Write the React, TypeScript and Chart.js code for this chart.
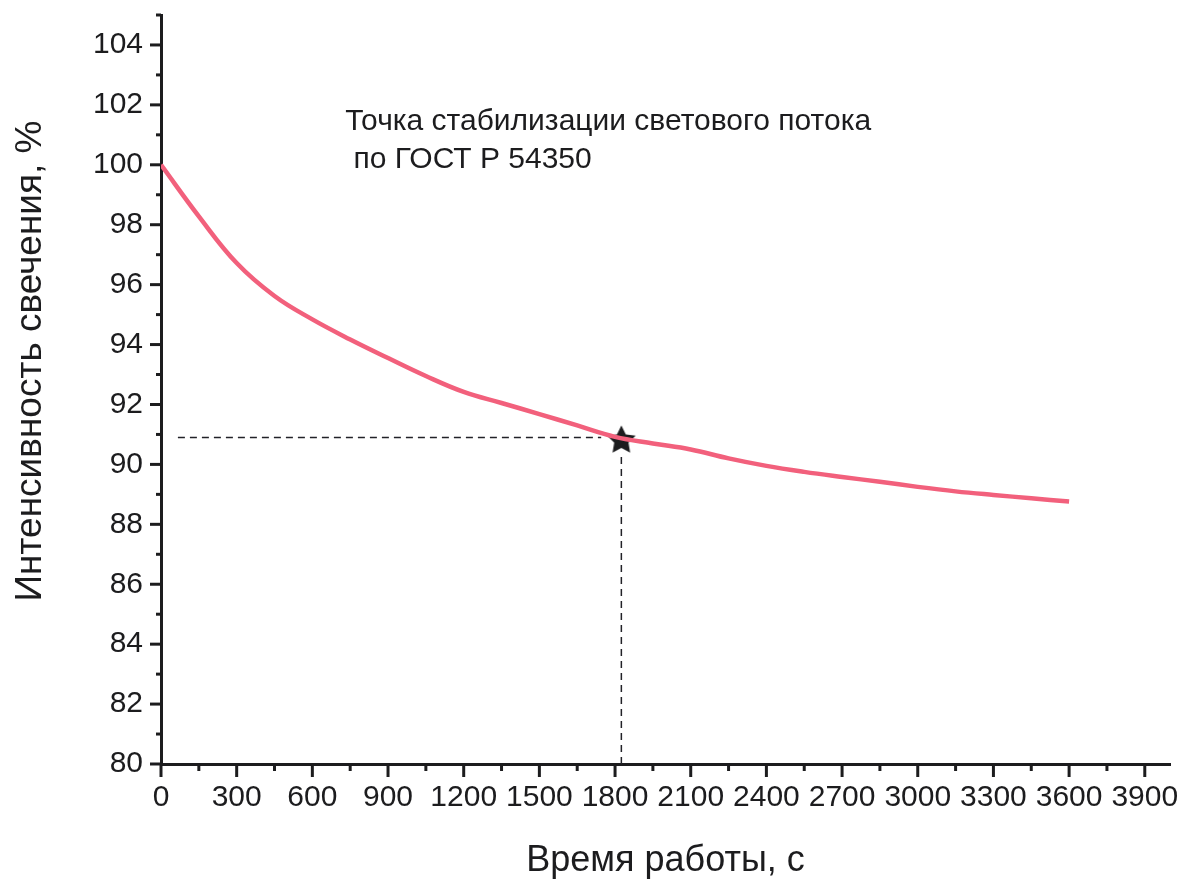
import React, { useEffect, useRef } from "react";
import { Chart, registerables } from "chart.js";

Chart.register(...registerables);

// ---- data ----
const timeSec = [0, 150, 300, 450, 600, 750, 900, 1050, 1200, 1350, 1500, 1650, 1800, 1950, 2100, 2250, 2400, 2550, 2700, 2850, 3000, 3150, 3300, 3450, 3600];
const intensity = [100.0, 98.28, 96.72, 95.62, 94.84, 94.17, 93.55, 92.95, 92.42, 92.05, 91.68, 91.3, 90.92, 90.7, 90.5, 90.2, 89.95, 89.75, 89.58, 89.42, 89.25, 89.1, 88.98, 88.87, 88.76];
const stabTime = [1825];
const stabValue = [90.85];
const hGuideX = [67, 1745];
const hGuideY = [90.9, 90.9];
const vGuideX = [1825, 1825];
const vGuideY = [90.25, 80];
const xTickValues = [0, 300, 600, 900, 1200, 1500, 1800, 2100, 2400, 2700, 3000, 3300, 3600, 3900];
const yTickValues = [80, 82, 84, 86, 88, 90, 92, 94, 96, 98, 100, 102, 104];
const annotationLines = ["Точка стабилизации светового потока", " по ГОСТ Р 54350"];
const xTitle = "Время работы, с";
const yTitle = "Интенсивность свечения, %";

const FONT = "'Liberation Sans', Arial, sans-serif";
const INK = "#1c1c1e";

function makeStar(r: number): HTMLCanvasElement {
  const c = document.createElement("canvas");
  const size = Math.ceil(r * 2 + 2);
  c.width = size;
  c.height = size;
  const ctx = c.getContext("2d")!;
  const cx = size / 2;
  const cy = size / 2 + 1.5;
  ctx.beginPath();
  for (let i = 0; i < 10; i++) {
    const rad = i % 2 === 0 ? r : r * 0.5;
    const a = -Math.PI / 2 + (i * Math.PI) / 5;
    const px = cx + rad * Math.cos(a);
    const py = cy + rad * Math.sin(a);
    if (i === 0) ctx.moveTo(px, py);
    else ctx.lineTo(px, py);
  }
  ctx.closePath();
  ctx.fillStyle = INK;
  ctx.fill();
  return c;
}

const decorPlugin = {
  id: "decor",
  afterDraw(chart: any) {
    const { ctx, scales } = chart;
    const xs = scales.x;
    const ys = scales.y;
    ctx.save();
    ctx.strokeStyle = INK;
    ctx.lineWidth = 3;
    ctx.lineCap = "butt";
    // x ticks
    const xBase = ys.getPixelForValue(80);
    for (let i = 0; i < xTickValues.length; i++) {
      const v = xTickValues[i];
      const px = xs.getPixelForValue(v);
      ctx.beginPath();
      ctx.moveTo(px, xBase);
      ctx.lineTo(px, xBase + 13);
      ctx.stroke();
      const mv = v + 150;
      if (mv < 4000) {
        const mp = xs.getPixelForValue(mv);
        ctx.beginPath();
        ctx.moveTo(mp, xBase);
        ctx.lineTo(mp, xBase + 7);
        ctx.stroke();
      }
    }
    // y ticks
    const yBase = xs.getPixelForValue(0);
    for (let i = 0; i < yTickValues.length; i++) {
      const v = yTickValues[i];
      const py = ys.getPixelForValue(v);
      ctx.beginPath();
      ctx.moveTo(yBase, py);
      ctx.lineTo(yBase - 11, py);
      ctx.stroke();
      const mv = v + 1;
      if (mv <= 105) {
        const mp = ys.getPixelForValue(mv);
        ctx.beginPath();
        ctx.moveTo(yBase, mp);
        ctx.lineTo(yBase - 5, mp);
        ctx.stroke();
      }
    }
    // y title
    ctx.save();
    ctx.translate(31, 361);
    ctx.rotate(-Math.PI / 2);
    ctx.font = `37px ${FONT}`;
    ctx.fillStyle = INK;
    ctx.textAlign = "center";
    ctx.textBaseline = "middle";
    ctx.fillText(yTitle, 0, 0);
    ctx.restore();
    // annotation
    ctx.font = `30px ${FONT}`;
    ctx.fillStyle = INK;
    ctx.textAlign = "left";
    ctx.textBaseline = "middle";
    const ax = xs.getPixelForValue(730);
    ctx.fillText(annotationLines[0], ax, ys.getPixelForValue(101.45));
    ctx.fillText(annotationLines[1], ax, ys.getPixelForValue(100.18));
    ctx.restore();
  },
};

export default function App() {
  const ref = useRef<HTMLCanvasElement | null>(null);

  useEffect(() => {
    document.body.style.margin = "0";
    const canvas = ref.current;
    if (!canvas) return;
    const star = makeStar(15);
    const chart = new Chart(canvas, {
      type: "line",
      data: {
        datasets: [
          {
            data: timeSec.map((t, i) => ({ x: t, y: intensity[i] })),
            borderColor: "#f2607c",
            borderWidth: 4.5,
            pointRadius: 0,
            tension: 0.4,
            fill: false,
          },
          {
            data: hGuideX.map((t, i) => ({ x: t, y: hGuideY[i] })),
            borderColor: "#222228",
            borderWidth: 1.5,
            borderDash: [7, 5],
            pointRadius: 0,
            fill: false,
          },
          {
            data: vGuideX.map((t, i) => ({ x: t, y: vGuideY[i] })),
            borderColor: "#222228",
            borderWidth: 1.5,
            borderDash: [7, 5],
            pointRadius: 0,
            fill: false,
          },
          {
            data: stabTime.map((t, i) => ({ x: t, y: stabValue[i] })),
            showLine: false,
            pointStyle: star as any,
            pointRadius: 15,
          },
        ],
      },
      options: {
        responsive: false,
        animation: false,
        devicePixelRatio: 1,
        layout: { autoPadding: false, padding: { top: 15, right: 11, left: 0, bottom: 0 } },
        plugins: { legend: { display: false }, tooltip: { enabled: false } },
        scales: {
          x: {
            type: "linear",
            min: 0,
            max: 4000,
            afterBuildTicks: (s: any) => {
              s.ticks = xTickValues.map((v) => ({ value: v }));
            },
            afterFit: (s: any) => {
              s.height = 120;
              s.paddingLeft = 0;
              s.paddingRight = 0;
            },
            grid: { display: false, drawTicks: false },
            border: { display: true, color: INK, width: 3 },
            ticks: {
              autoSkip: false,
              maxRotation: 0,
              padding: 16,
              color: INK,
              font: { family: FONT, size: 30 },
              callback: (v: any) => String(v),
            },
            title: {
              display: true,
              text: xTitle,
              color: INK,
              font: { family: FONT, size: 36 },
              padding: { top: 0, bottom: 1 },
            },
          },
          y: {
            type: "linear",
            min: 80,
            max: 105,
            afterBuildTicks: (s: any) => {
              s.ticks = yTickValues.map((v) => ({ value: v }));
            },
            afterFit: (s: any) => {
              s.width = 161;
              s.paddingTop = 0;
              s.paddingBottom = 0;
            },
            grid: { display: false, drawTicks: false },
            border: { display: true, color: INK, width: 3 },
            ticks: {
              autoSkip: false,
              padding: 18,
              color: INK,
              font: { family: FONT, size: 30 },
              callback: (v: any) => String(v),
            },
          },
        },
      },
      plugins: [decorPlugin],
    } as any);
    return () => chart.destroy();
  }, []);

  return (
    <div style={{ position: "absolute", left: 0, top: 0, width: 1181, height: 884, background: "#fff" }}>
      <canvas ref={ref} width={1181} height={884} />
    </div>
  );
}
